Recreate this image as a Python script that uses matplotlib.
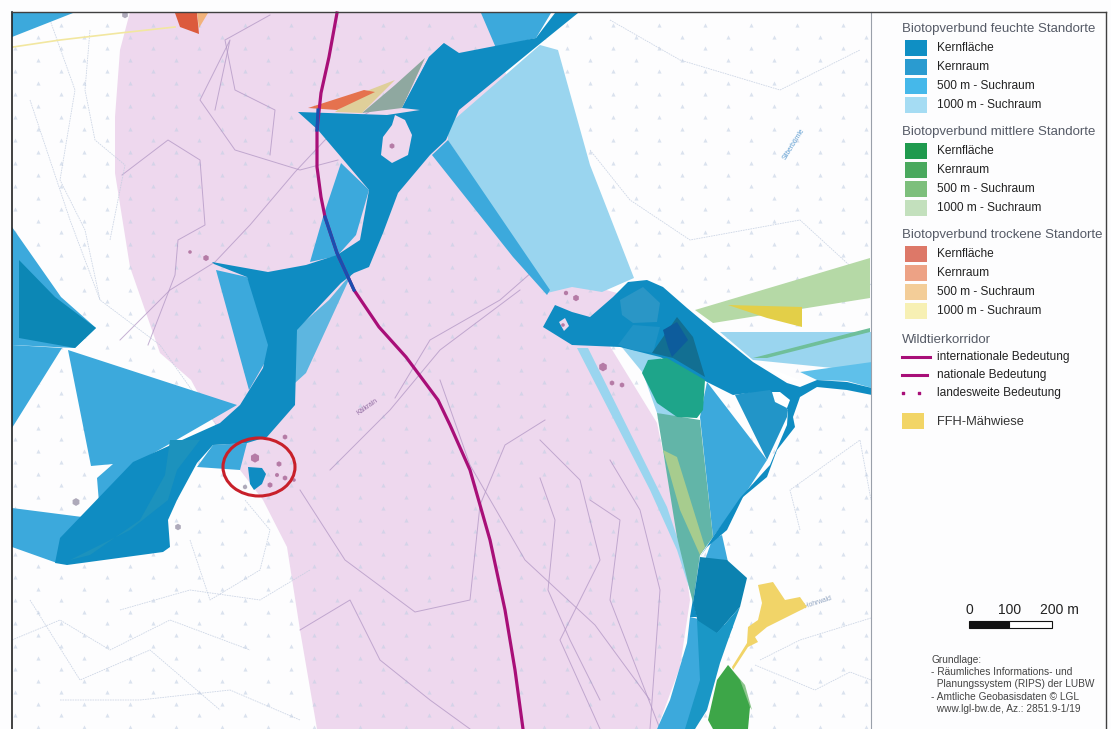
import matplotlib
matplotlib.use('Agg')
import matplotlib.pyplot as plt
from matplotlib.patches import Polygon, Ellipse, Rectangle

plt.rcParams['font.family'] = ['Liberation Sans', 'DejaVu Sans']

# map shapes in pixels (x, y from top left)
corridor = [(130, 12), (497, 12), (500, 60), (530, 130), (570, 280), (617, 293), (600, 330), (657, 423), (683, 550),
            (690, 600), (680, 667), (657, 729), (317, 729), (300, 630), (287, 547), (263, 500), (240, 470), (191, 380),
            (160, 353), (130, 267), (115, 173), (115, 117), (120, 50)]

pale_top = [(448, 125), (540, 45), (558, 50), (590, 165), (634, 278), (602, 292), (572, 287), (547, 293), (448, 140)]
pale_strip = [(577, 348), (588, 348), (667, 507), (687, 567), (694, 603), (677, 550), (650, 490)]
pale_core = [(620, 345), (660, 355), (680, 420), (657, 413), (643, 373)]
pale_right = [(720, 332), (872, 332), (872, 368), (833, 368), (753, 360)]
mid_strip_right = [(800, 372), (872, 362), (872, 388), (847, 381), (817, 380)]
green_band = [(695, 310), (870, 258), (870, 298), (713, 323)]
green_thin = [(753, 358), (870, 328), (870, 332), (767, 358)]
ffh_north = [(728, 305), (802, 307), (802, 327), (767, 318)]

mid_triangle = [(68, 350), (237, 405), (133, 465), (100, 515), (97, 478), (113, 464), (91, 466)]
mid_left_a = [(12, 345), (62, 348), (12, 428)]
mid_left_b = [(12, 508), (90, 518), (57, 563), (12, 547)]
mid_left_c = [(12, 227), (61, 297), (96, 328), (75, 348), (12, 345)]
top_left = [(12, 13), (73, 13), (12, 37)]
top_right = [(481, 13), (551, 13), (536, 38), (496, 48)]
mid_wing = [(216, 270), (247, 277), (276, 343), (249, 390)]
mid_middle = [(310, 262), (323, 217), (341, 163), (369, 190), (356, 235), (337, 256)]
mid_fringe = [(352, 273), (329, 300), (295, 330), (295, 383), (306, 373)]
mid_fan = [(448, 140), (432, 155), (513, 257), (547, 295), (550, 290)]
mid_ellipse = [(213, 445), (197, 467), (240, 470), (247, 443)]
mid_right = [(707, 382), (767, 460), (743, 497), (713, 537), (700, 417)]
mid_right_dark = [(735, 395), (767, 460), (787, 417), (788, 410), (770, 388)]
mid_lower = [(690, 617), (733, 627), (720, 650), (707, 693), (697, 717), (695, 729), (657, 729), (670, 700), (687, 643)]
mid_lower_top = [(712, 540), (722, 535), (728, 562), (705, 560)]
edge_tri = [(429, 57), (444, 43), (420, 108), (402, 108)]

core_left = [(19, 260), (55, 297), (96, 328), (75, 348), (19, 338)]
core_main = [(55, 563), (60, 538), (133, 462), (220, 423), (240, 405), (263, 368), (268, 345), (247, 277), (214, 264),
             (212, 262), (268, 272), (306, 265), (337, 255), (360, 240), (369, 190), (341, 157), (318, 130), (298, 112),
             (387, 115), (420, 110), (402, 108), (429, 57), (444, 43), (459, 53), (536, 38), (555, 13), (578, 13),
             (536, 47), (459, 110), (446, 140), (430, 155), (398, 193), (383, 233), (369, 267), (354, 273), (341, 283),
             (297, 330), (295, 405), (267, 437), (247, 443), (213, 445), (197, 463), (177, 500), (168, 520), (170, 547),
             (163, 552), (67, 565)]
core_darker = [(170, 440), (165, 475), (140, 520), (90, 555), (70, 560), (130, 530), (168, 500), (177, 470), (200, 440)]
blob_ellipse = [(248, 467), (262, 468), (266, 474), (262, 484), (254, 490), (250, 484)]
core_right = [(543, 327), (555, 305), (572, 312), (590, 317), (613, 297), (628, 282), (647, 280), (663, 287), (687, 308),
              (717, 333), (753, 362), (787, 383), (800, 387), (817, 380), (847, 382), (872, 388), (872, 395), (847, 390),
              (817, 387), (800, 397), (793, 417), (795, 427), (777, 450), (767, 477), (743, 497), (727, 530), (707, 547),
              (700, 557), (693, 600), (697, 617), (690, 617), (700, 557), (713, 537), (740, 498), (770, 465), (787, 425),
              (788, 410), (770, 390), (733, 395), (707, 382), (660, 357), (620, 347), (572, 345)]
blob_a = [(620, 300), (643, 287), (660, 303), (657, 322), (633, 323), (622, 315)]
blob_b = [(618, 345), (633, 325), (660, 327), (653, 353), (633, 350)]
lower_dark = [(700, 557), (727, 560), (747, 578), (740, 607), (717, 633), (700, 630), (693, 603)]
lower_core = [(697, 620), (717, 633), (740, 607), (727, 643), (720, 663), (707, 710), (695, 729), (685, 729), (700, 680)]
dark_right = [(652, 353), (677, 317), (693, 337), (705, 377), (673, 358)]
navy_right = [(663, 330), (677, 322), (688, 340), (672, 357), (668, 347)]
green_right = [(642, 373), (648, 360), (667, 358), (705, 380), (703, 410), (697, 418), (677, 417), (657, 403)]
green_strip = [(657, 413), (700, 420), (713, 537), (700, 555), (693, 603), (677, 537)]
yellow_green = [(663, 450), (677, 457), (705, 547), (700, 555), (680, 510)]
white_hole = [(772, 392), (780, 392), (790, 400), (787, 408), (775, 402)]
white_sliver = [(757, 363), (800, 380), (790, 382)]
green_bottom = [(728, 665), (740, 680), (750, 707), (748, 729), (713, 729), (708, 720), (717, 680)]
green_edge = [(728, 665), (745, 685), (752, 710), (745, 700)]

ffh_south = [(758, 585), (773, 582), (785, 600), (800, 597), (807, 607), (767, 627), (755, 637), (758, 642), (748, 647),
             (733, 670), (732, 667), (747, 643), (748, 627), (758, 620), (762, 603)]

red_top = [(175, 13), (197, 13), (199, 34), (180, 27)]
orange_top = [(197, 13), (208, 13), (199, 28)]
tri_grey = [(425, 58), (402, 108), (362, 113), (395, 85)]
tri_beige = [(395, 80), (362, 113), (335, 112), (364, 92)]
tri_orange = [(308, 108), (364, 90), (375, 92), (337, 110)]
hole_top = [(395, 115), (405, 120), (412, 135), (408, 155), (392, 163), (381, 155), (383, 137), (392, 125)]
hole_right = [(559, 322), (565, 318), (569, 326), (564, 331)]
yellow_line_x = [13, 60, 120, 175]
yellow_line_y = [47, 40, 33, 27]

intl_x = [337, 329, 321, 317, 317, 321, 325, 337, 354, 379, 406, 438, 450, 470, 490, 505, 515, 523]
intl_y = [13, 57, 93, 130, 167, 197, 217, 253, 290, 327, 357, 400, 425, 470, 540, 610, 670, 729]
blue_x = [325, 337, 354]
blue_y = [217, 253, 290]
blue2_x = [318, 317]
blue2_y = [110, 130]

contours_pink = [
    ([120, 170, 215, 250, 295, 325, 372], [340, 290, 262, 225, 172, 140, 110]),
    ([148, 175, 178, 205, 200, 168, 122], [345, 275, 240, 225, 160, 140, 175]),
    ([215, 230, 200, 235, 300, 338], [110, 40, 100, 150, 170, 160]),
    ([270, 275, 235, 225, 270], [155, 110, 90, 40, 15]),
    ([395, 430, 500, 540, 580], [398, 340, 300, 265, 255]),
    ([330, 390, 440, 520], [470, 410, 350, 290]),
    ([300, 345, 415, 470, 480, 505, 545], [490, 560, 612, 600, 505, 445, 420]),
    ([440, 470, 525, 595, 650], [380, 465, 560, 625, 700]),
    ([540, 580, 600, 560, 600], [440, 480, 560, 640, 729]),
    ([590, 620, 610, 660], [500, 520, 600, 729]),
    ([540, 555, 548, 570, 600], [478, 520, 590, 640, 700]),
    ([610, 640, 660, 650], [460, 510, 590, 729]),
    ([300, 350, 380, 430, 470], [630, 600, 660, 700, 729]),
]
contours_white = [
    ([30, 70, 100, 160, 220], [100, 220, 300, 345, 430]),
    ([50, 75, 60, 85, 100], [20, 90, 180, 230, 300]),
    ([90, 85, 95, 125, 110], [30, 90, 140, 165, 240]),
    ([610, 680, 780, 860], [20, 60, 90, 50]),
    ([590, 630, 690, 800, 871], [150, 200, 240, 220, 285]),
    ([800, 790, 860, 871], [530, 490, 440, 500]),
    ([760, 800, 871], [660, 640, 618]),
    ([755, 815, 850, 871], [665, 690, 672, 680]),
    ([12, 60, 110, 170, 250], [640, 620, 650, 620, 650]),
    ([190, 210, 260, 270, 245], [540, 600, 570, 530, 500]),
    ([30, 80, 150, 220], [600, 680, 650, 710]),
    ([120, 190, 260, 310], [610, 590, 600, 570]),
    ([60, 140, 230, 300], [700, 700, 690, 720]),
]

tree_x_a = [15, 61, 107, 153, 199, 245, 291, 337, 383, 429, 475, 521, 567, 613, 659, 705, 751, 797, 843]
tree_x_b = [38, 84, 130, 176, 222, 268, 314, 360, 406, 452, 498, 544, 590, 636, 682, 728, 774, 820, 866]
tree_y_a = [25, 48, 71, 94, 117, 140, 163, 186, 209, 232, 255, 278, 301, 324, 347, 370, 393, 416, 439, 462, 485, 508,
            531, 554, 577, 600, 623, 646, 669, 692, 715]
tree_y_b = [37, 60, 83, 106, 129, 152, 175, 198, 221, 244, 267, 290, 313, 336, 359, 382, 405, 428, 451, 474, 497, 520,
            543, 566, 589, 612, 635, 658, 681, 704, 727]

house_x = [255, 279, 277, 285, 270, 206, 285, 603, 612, 622, 576, 566, 392, 400, 294, 190]
house_y = [458, 464, 475, 478, 485, 258, 437, 367, 383, 385, 298, 293, 145, 155, 480, 252]
house_size = [45, 16, 10, 14, 16, 20, 14, 40, 14, 14, 22, 12, 16, 8, 8, 8]
grey_house_x = [76, 178, 245, 125]
grey_house_y = [502, 527, 487, 15]
grey_house_size = [32, 22, 12, 22]

legend_groups = ['Biotopverbund feuchte Standorte', 'Biotopverbund mittlere Standorte',
                 'Biotopverbund trockene Standorte']
legend_rows = ['Kernfläche', 'Kernraum', '500 m - Suchraum', '1000 m - Suchraum']
legend_colors = [['#0f8fc4', '#2a9bd0', '#45b8ea', '#a5dcf3'],
                 ['#1f9a4e', '#4aa95e', '#7dbf7c', '#c3e0bd'],
                 ['#dd7868', '#eda285', '#f3cd98', '#f7f0b4']]
wild_labels = ['internationale Bedeutung', 'nationale Bedeutung', 'landesweite Bedeutung']
credits = ['Grundlage:', '- Räumliches Informations- und', '  Planungssystem (RIPS) der LUBW',
           '- Amtliche Geobasisdaten © LGL', '  www.lgl-bw.de, Az.: 2851.9-1/19']

CORE = '#0f8cc2'
MID = '#3ca9dc'
PALE = '#9ad5ef'

fig = plt.figure(figsize=(11.11, 7.29), dpi=100, facecolor='#fdfdfe')
ax = fig.add_axes([0, 0, 1, 1])
ax.set_xlim(0, 1111)
ax.set_ylim(729, 0)
ax.axis('off')


def shape(pts, color, z=2, alpha=1.0):
    ax.add_patch(Polygon(pts, closed=True, fc=color, ec='none', alpha=alpha, zorder=z))


shape(corridor, '#eed8ee', 1)

# tree symbols of the base map, two staggered sets of rows
for xs, ys in ((tree_x_a, tree_y_a), (tree_x_b, tree_y_b)):
    px = [x for x in xs for y in ys]
    py = [y for x in xs for y in ys]
    ax.scatter(px, py, s=9, marker='^', color='#c3d0e4', alpha=0.6, linewidths=0, zorder=1.3)

for xs, ys in contours_pink:
    ax.plot(xs, ys, color='#b196c4', lw=0.7, alpha=0.75, zorder=1.5)
for xs, ys in contours_white:
    ax.plot(xs, ys, color='#c2cde0', lw=0.6, ls=(0, (2, 1)), alpha=0.8, zorder=1.5)
ax.scatter(house_x, house_y, s=house_size, marker='h', color='#b57ba6', linewidths=0, zorder=1.6)
ax.scatter(grey_house_x, grey_house_y, s=grey_house_size, marker='h', color='#aeaaba', linewidths=0, zorder=1.6)

ax.text(794, 144, 'Silberbörnle', fontsize=4.8, color='#5b9bd0', rotation=58, ha='center', va='center', zorder=1.7)
ax.text(367, 407, 'Kälkrain', fontsize=4.8, color='#8f6aa0', rotation=35, ha='center', va='center', zorder=1.7)
ax.text(812, 604, 'Am Hohrwald', fontsize=4.8, color='#8fa3c0', rotation=18, ha='center', va='center', zorder=1.7)

for pts in (pale_top, pale_strip, pale_core, pale_right):
    shape(pts, PALE, 2)
shape(green_band, '#b5d9a6', 2)
shape(green_thin, '#6fbf9a', 2.1)
shape(mid_strip_right, '#5fc0ea', 2.1)
shape(ffh_north, '#e3cf48', 2.2)
for pts in (mid_triangle, mid_left_a, mid_left_b, mid_left_c, top_left, top_right, mid_wing, mid_middle, mid_fan,
            mid_ellipse, mid_right, mid_lower, mid_lower_top, edge_tri):
    shape(pts, MID, 3)
shape(mid_fringe, '#5db6e0', 3)
shape(mid_right_dark, '#2295c8', 3.1)
shape(green_strip, '#62b5a8', 3.2)
shape(yellow_green, '#a7cc8e', 3.3)
shape(core_left, '#0c87b5', 4)
shape(core_main, CORE, 4)
shape(core_right, CORE, 4)
shape(core_darker, '#1c92bd', 4.1)
shape(blob_ellipse, CORE, 4)
shape(blob_a, '#2a96c6', 4.1)
shape(blob_b, '#1f93c6', 4.1)
shape(lower_dark, '#0c82b0', 4.2)
shape(lower_core, '#1a97c6', 4.2)
shape(dark_right, '#126f92', 4.5)
shape(navy_right, '#0d5c9c', 4.6)
shape(green_right, '#1ea58a', 4.7)
shape(white_hole, '#ffffff', 5)
shape(white_sliver, '#ffffff', 5)
shape(green_bottom, '#3da648', 5)
shape(green_edge, '#8cc58c', 4.9)
shape(ffh_south, '#f1d468', 5)
shape(red_top, '#dc5a3c', 5)
shape(orange_top, '#f2b27a', 5)
shape(tri_grey, '#8fa8a0', 5)
shape(tri_beige, '#dfcf9a', 5.1)
shape(tri_orange, '#e5724e', 5.2)
shape(hole_top, '#eed8ee', 5.3)
shape(hole_right, '#eed8ee', 5.3)
ax.scatter([392, 563], [146, 325], s=[16, 8], marker='h', color='#b57ba6', linewidths=0, zorder=5.4)

ax.plot(yellow_line_x, yellow_line_y, color='#f2e7a0', lw=1.2, zorder=5)
ax.plot(intl_x, intl_y, color='#a80f78', lw=2.3, zorder=6)
ax.plot(blue_x, blue_y, color='#1a4fb0', lw=2.3, zorder=6.5)
ax.plot(blue2_x, blue2_y, color='#1a4fb0', lw=2.3, zorder=6.5)
ax.add_patch(Ellipse((259, 467), 72, 58, fc='none', ec='#c8202a', lw=2.2, zorder=7))

# map frame
ax.plot([12, 12], [12, 729], color='#222222', lw=1.2, zorder=8)
ax.plot([871, 871], [12, 729], color='#9aa0aa', lw=0.8, zorder=8)
ax.plot([12, 1106], [12, 12], color='#404040', lw=1.0, zorder=8)
ax.plot([1106, 1106], [12, 729], color='#404040', lw=1.0, zorder=8)

# legend
group_y = [29, 132, 235]
for top, title, cols in zip(group_y, legend_groups, legend_colors):
    ax.text(902, top, title, fontsize=9.5, color='#555a66', va='center', ha='left')
    for i, (name, col) in enumerate(zip(legend_rows, cols)):
        y = top + 18.5 + i * 19
        ax.add_patch(Rectangle((905, y - 8), 22, 16, fc=col, ec='none'))
        ax.text(937, y, name, fontsize=8.6, color='#222222', va='center', ha='left')

ax.text(902, 340, 'Wildtierkorridor', fontsize=9.5, color='#555a66', va='center', ha='left')
ax.plot([902, 930], [357, 357], color='#a80f78', lw=2.2)
ax.plot([902, 927], [375, 375], color='#a80f78', lw=2.2)
ax.scatter([903, 919], [393, 393], s=4, marker='s', color='#a80f78')
for y, name in zip([357, 375, 393], wild_labels):
    ax.text(937, y, name, fontsize=8.6, color='#222222', va='center', ha='left')
ax.add_patch(Rectangle((902, 413), 22, 16, fc='#f2d566', ec='none'))
ax.text(937, 422, 'FFH-Mähwiese', fontsize=9.3, color='#333333', va='center', ha='left')

# scale bar
ax.add_patch(Rectangle((969, 621), 40, 7, fc='#111111', ec='#111111', lw=0.8))
ax.add_patch(Rectangle((1009, 621), 43, 7, fc='white', ec='#111111', lw=0.8))
for x, lab in zip([969, 1010], ['0', '100']):
    ax.text(x, 610, lab, fontsize=10, color='#222222', ha='center', va='center')
ax.text(1059, 610, '200 m', fontsize=10, color='#222222', ha='center', va='center')

for y, line in zip([660, 672, 684, 697, 709], credits):
    ax.text(931, y, line, fontsize=7.3, color='#444444', va='center', ha='left')

fig.savefig('out.png', dpi=100, facecolor=fig.get_facecolor())
